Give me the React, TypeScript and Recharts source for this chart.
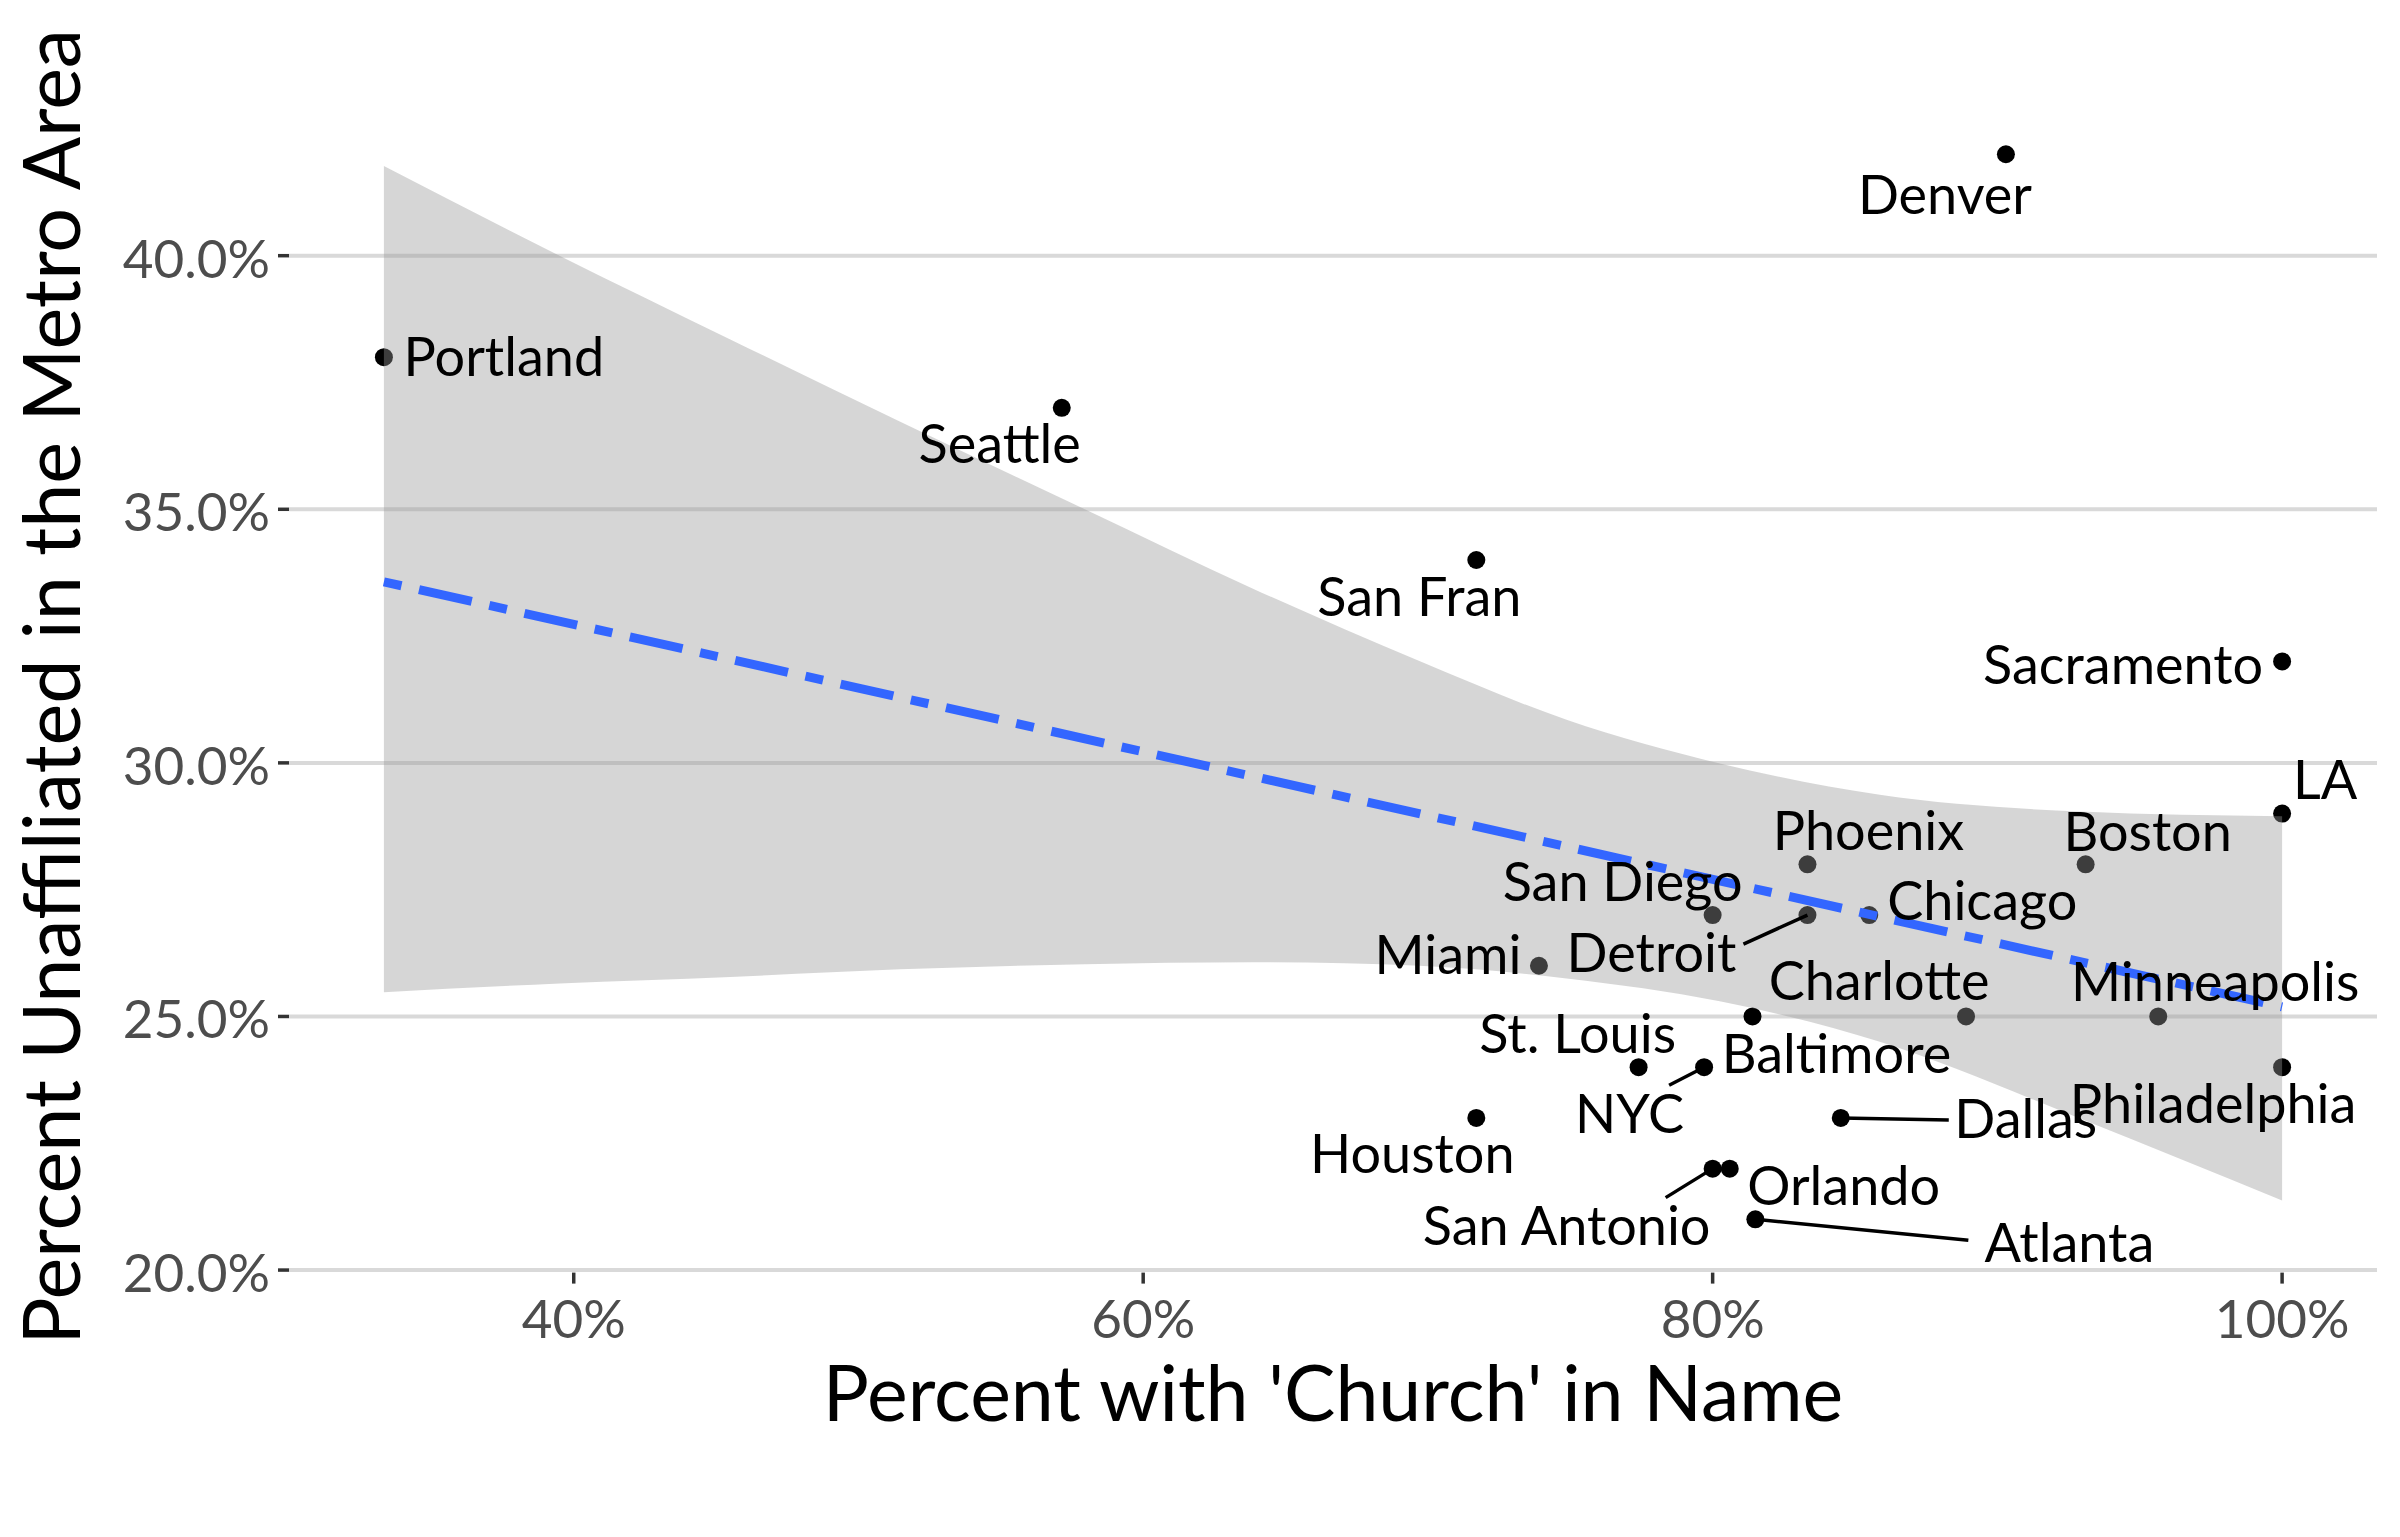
import React from 'react';
import { ComposedChart, XAxis, YAxis, ReferenceLine, Scatter, Area, Line } from 'recharts';

const FONT = 'Lato, "Noto Sans", sans-serif';

// ---- data ----
const cities = [
  'Portland', 'Seattle', 'San Fran', 'Denver', 'Sacramento', 'LA', 'Phoenix', 'Boston',
  'San Diego', 'Detroit', 'Chicago', 'Miami', 'Charlotte', 'Minneapolis', 'Baltimore',
  'St. Louis', 'NYC', 'Houston', 'Dallas', 'Philadelphia', 'Orlando', 'San Antonio', 'Atlanta',
];
const pctChurch = [
  33.333, 57.14, 71.7, 90.3, 100, 100, 83.33, 93.1,
  80, 83.33, 85.5, 73.9, 88.9, 95.65, 81.4,
  77.4, 79.7, 71.7, 84.5, 100, 80.6, 80, 81.5,
];
const pctUnaffiliated = [
  38, 37, 34, 42, 32, 29, 28, 28,
  27, 27, 27, 26, 25, 25, 25,
  24, 24, 23, 23, 24, 22, 22, 21,
];

const xTicks = [40, 60, 80, 100];
const yTicks = [20, 25, 30, 35, 40];

// confidence band
const bandX = [33.333, 39.5, 45.5, 51.45, 57.95, 63.8, 69.7, 74.87, 80.25, 85.87, 92.9, 100];
const bandLower = [25.48, 25.65, 25.78, 25.93, 26.03, 26.07, 26.0, 25.75, 25.3, 24.5, 22.99, 21.37];
const bandUpper = [41.77, 40.0, 38.35, 36.73, 35.0, 33.45, 32.01, 30.85, 29.99, 29.37, 29.04, 28.95];

// fitted line end points
const fitX = [33.333, 100];
const fitY = [33.57, 25.19];

// ---- label layout (pixel offsets from each point; styling only) ----
const labelDx = [120, -62, -57, -61, -159, 43, 61, 62, -90, -156, 113, -91, -87, 57, 84, -61, -74.5, -64, 185, -69, 114, -146, 314];
const labelDy = [0, 36, 37, 40, 3.5, -34, -34, -33, -33, 38, -14, -11.5, -36, -35, 37, -34, 46, 36, 1, 36, 17, 57, 23];
const segDx: (number | null)[] = [null, null, null, null, null, null, null, null, null, -64, null, null, null, null, null, null, -35, null, 108, null, null, -47, 213];
const segDy: (number | null)[] = [null, null, null, null, null, null, null, null, null, 29, null, null, null, null, null, null, 18, null, 2, null, null, 29, 21];

const points = cities.map((c, i) => ({ x: pctChurch[i], y: pctUnaffiliated[i], city: c, idx: i }));
const band = bandX.map((x, i) => ({ x, band: [bandLower[i], bandUpper[i]] }));
const fit = fitX.map((x, i) => ({ x, y: fitY[i] }));

const LABEL_SIZE = 54;
const TICK_SIZE = 53;
const TITLE_SIZE = 77;

const DotShape = (props: any) => {
  const { cx, cy } = props;
  if (cx == null || cy == null) return null;
  return <circle cx={cx} cy={cy} r={9} fill="#000000" />;
};

const LabelShape = (props: any) => {
  const { cx, cy, payload } = props;
  if (cx == null || cy == null || !payload) return null;
  const i = payload.idx;
  const tx = cx + labelDx[i];
  const ty = cy + labelDy[i] + 0.358 * LABEL_SIZE;
  const sdx = segDx[i];
  const sdy = segDy[i];
  return (
    <g>
      {sdx != null && sdy != null ? (
        <line x1={cx} y1={cy} x2={cx + sdx} y2={cy + sdy} stroke="#000000" strokeWidth={3.5} />
      ) : null}
      <text x={tx} y={ty} textAnchor="middle" fontFamily={FONT} fontSize={LABEL_SIZE} fill="#000000">
        {payload.city}
      </text>
    </g>
  );
};

const XTick = (props: any) => {
  const { x, y, payload } = props;
  return (
    <text x={x} y={y} dy={54} textAnchor="middle" fontFamily={FONT} fontSize={TICK_SIZE} fill="#4d4d4d">
      {`${payload.value}%`}
    </text>
  );
};

const YTick = (props: any) => {
  const { x, y, payload } = props;
  return (
    <text x={x} y={y} dy={22} textAnchor="end" fontFamily={FONT} fontSize={TICK_SIZE} fill="#4d4d4d">
      {`${Number(payload.value).toFixed(1)}%`}
    </text>
  );
};

const XTitle = (props: any) => {
  const vb = props.viewBox || {};
  return (
    <text x={vb.x + vb.width / 2} y={vb.y + 148} textAnchor="middle" fontFamily={FONT} fontSize={TITLE_SIZE} fill="#000000">
      Percent with 'Church' in Name
    </text>
  );
};

const YTitle = (props: any) => {
  const vb = props.viewBox || {};
  const cx = 80;
  const cy = vb.y + vb.height / 2;
  return (
    <text x={cx} y={cy} transform={`rotate(-90, ${cx}, ${cy})`} textAnchor="middle" fontFamily={FONT} fontSize={79} fill="#000000">
      Percent Unaffiliated in the Metro Area
    </text>
  );
};

export default function App() {
  return (
    <div style={{ position: 'absolute', left: 0, top: 0, width: 2400, height: 1537, background: '#ffffff' }}>
      <ComposedChart width={2400} height={1537} margin={{ top: 101, right: 23, bottom: 0, left: 0 }}>
        <XAxis
          type="number"
          dataKey="x"
          domain={[30, 103.333]}
          ticks={xTicks}
          interval={0}
          allowDataOverflow
          height={264.4}
          axisLine={false}
          tickSize={11}
          tickMargin={0}
          tickLine={{ stroke: '#333333', strokeWidth: 3.5 }}
          tick={<XTick />}
          label={<XTitle />}
        />
        <YAxis
          type="number"
          domain={[19.95, 43.05]}
          ticks={yTicks}
          interval={0}
          allowDataOverflow
          width={289}
          axisLine={false}
          tickSize={11}
          tickMargin={8}
          tickLine={{ stroke: '#333333', strokeWidth: 3.5 }}
          tick={<YTick />}
          label={<YTitle />}
        />
        {yTicks.map((t) => (
          <ReferenceLine key={`g${t}`} y={t} stroke="#d9d9d9" strokeWidth={4} ifOverflow="visible" zIndex={-50} />
        ))}
        <Scatter
          data={points}
          dataKey="y"
          shape={<DotShape />}
          isAnimationActive={false}
          zIndex={50}
        />
        <Area
          data={band}
          dataKey="band"
          type="monotone"
          stroke="none"
          fill="#999999"
          fillOpacity={0.4}
          dot={false}
          activeDot={false}
          isAnimationActive={false}
          zIndex={100}
        />
        <Line
          data={fit}
          dataKey="y"
          type="linear"
          stroke="#3366FF"
          strokeWidth={9}
          strokeDasharray="18 18 54 18"
          strokeLinecap="butt"
          dot={false}
          activeDot={false}
          isAnimationActive={false}
          zIndex={400}
        />
        <Scatter
          data={points}
          dataKey="y"
          shape={<LabelShape />}
          isAnimationActive={false}
          zIndex={700}
        />
      </ComposedChart>
    </div>
  );
}
